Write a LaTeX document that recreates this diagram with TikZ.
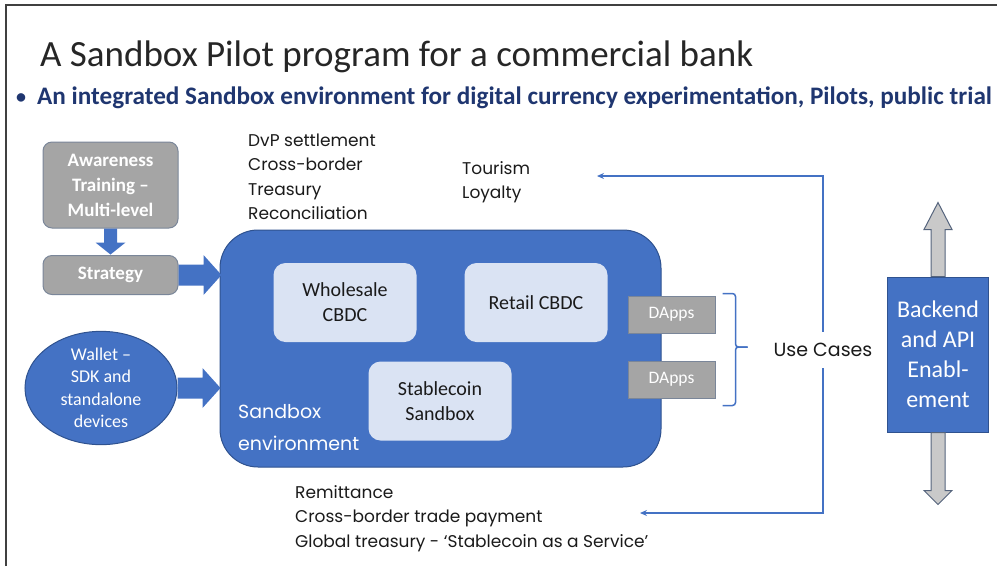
\documentclass[tikz,border=0pt]{standalone}
\usepackage{fontspec}
\setmainfont{Carlito}
\newfontfamily\geo{Poppins}
\usetikzlibrary{arrows.meta,calc,shapes.geometric}

\definecolor{sbblue}{HTML}{4472C4}
\definecolor{sbedge}{HTML}{2F528F}
\definecolor{navy}{HTML}{1F3670}
\definecolor{lightbox}{HTML}{DAE3F3}
\definecolor{greybox}{HTML}{A5A5A5}
\definecolor{greyedge}{HTML}{7A8699}
\definecolor{arrowgrey}{HTML}{C9C9C9}
\definecolor{arrowedge}{HTML}{55647D}
\definecolor{inktext}{HTML}{1A1A1A}

\tikzset{
  greyrect/.style={rectangle, rounded corners=9, fill=greybox, draw=greyedge, line width=1,
    text=white, font=\bfseries\fontsize{19}{25}\selectfont, align=center, inner sep=0},
  innerbox/.style={rectangle, rounded corners=12, fill=lightbox, text=inktext,
    font=\fontsize{20}{25}\selectfont, align=center, inner sep=0,
    minimum width=143, minimum height=79},
  dappbox/.style={rectangle, fill=greybox, draw=greyedge, line width=1, text=white,
    font=\fontsize{17.5}{20}\selectfont, minimum width=87, minimum height=37, inner sep=0},
  % multi-line text: the base anchor sits on the last line
  listtext/.style={anchor=base west, inner sep=0, text=inktext, align=left,
    font=\geo\fontsize{17}{24.5}\selectfont},
  conn/.style={draw=sbblue, line width=1.3, -{Stealth[length=7,width=6]}},
  rblock/.pic={\fill[sbblue] (0,-10.5) -- (25,-10.5) -- (25,-20) -- (43,0) -- (25,20)
    -- (25,10.5) -- (0,10.5) -- cycle;},
  dblock/.pic={\fill[sbblue] (-6.5,0) -- (-6.5,14) -- (-15,14) -- (0,26) -- (15,14)
    -- (6.5,14) -- (6.5,0) -- cycle;},
  upgrey/.pic={\filldraw[fill=arrowgrey, draw=arrowedge, line width=1] (-7,0) -- (-7,-47)
    -- (-14,-47) -- (0,-74) -- (14,-47) -- (7,-47) -- (7,0) -- cycle;},
  downgrey/.pic={\filldraw[fill=arrowgrey, draw=arrowedge, line width=1] (-7,0) -- (-7,58)
    -- (-14,58) -- (0,72) -- (14,58) -- (7,58) -- (7,0) -- cycle;}
}

\begin{document}
\begin{tikzpicture}[x=1pt,y=-1pt]
\useasboundingbox (0,0) rectangle (997,566);

% frame edges
\draw[line width=1.2, black!75] (6,566) -- (6,5) -- (997,5);

% heading
\node[anchor=base west, inner sep=0, text=black!85, font=\fontsize{37}{40}\selectfont]
  (title) at (40,66) {A Sandbox Pilot program for a commercial bank};
\node[anchor=base west, inner sep=0, text=navy, font=\bfseries\fontsize{20}{26}\selectfont]
  (bullet) at (16,103) {•};
\node[anchor=base west, inner sep=0, text=navy, font=\bfseries\fontsize{25.2}{28}\selectfont]
  (subtitle) at (37,104) {An integrated Sandbox environment for digital currency experimentation, Pilots, public trial};

% left-hand inputs
\node[greyrect, minimum width=135, minimum height=86] (aware) at (110.5,185)
  {Awareness\\Training –\\Multi-level};
\node[greyrect, minimum width=135, minimum height=39] (strat) at (110.5,275) {Strategy};
\node[ellipse, fill=sbblue, draw=sbedge, line width=1, minimum width=152, minimum height=104,
  inner sep=0, text=white, align=center, font=\fontsize{18}{22.5}\selectfont]
  (wallet) at (101,388) {Wallet –\\SDK and\\standalone\\devices};

% sandbox environment
\node[rectangle, rounded corners=38, fill=sbblue, draw=sbedge, line width=1,
  minimum width=441, minimum height=237, inner sep=0] (sandbox) at (440.5,348.5) {};
\node[anchor=base west, inner sep=0, text=white, align=left,
  font=\geo\fontsize{19}{32}\selectfont] (sblabel) at (238,450) {Sandbox\\environment};

\node[innerbox] (whole) at (345,302.5) {Wholesale\\CBDC};
\node[innerbox] (retail) at (536,302.5) {Retail CBDC};
\node[innerbox] (stable) at (440,401) {Stablecoin\\Sandbox};

\node[dappbox] (dapp1) at (671.5,314.5) {DApps};
\node[dappbox] (dapp2) at (671.5,379.5) {DApps};

% block arrows into the sandbox
\pic at (aware.south) {dblock};
\pic at (strat.east) {rblock};
\pic at (wallet.east) {rblock};

% brace grouping the DApps
\draw[sbblue, line width=1.5, rounded corners=3]
  ($(dapp1.north east)+(7,-2)$) -- ++(13,0) |- ($(dapp1.east)!0.5!(dapp2.east)+(32,0)$);
\draw[sbblue, line width=1.5, rounded corners=3]
  ($(dapp2.south east)+(7,7)$) -- ++(13,0) |- ($(dapp1.east)!0.5!(dapp2.east)+(32,0)$);

% use cases
\node[inner sep=0, minimum height=36, text=inktext, font=\geo\fontsize{19}{24}\selectfont]
  (uc) at (823,350) {Use Cases};
\coordinate (ucTop) at (597,176);
\coordinate (ucBot) at (640,513);
\draw[conn] (uc.north) |- (ucTop);
\draw[conn] (uc.south) |- (ucBot);

\node[listtext] (wlist) at (248,219.5) {DvP settlement\\Cross-border\\Treasury\\Reconciliation};
\node[listtext] (rlist) at (462,198.5) {Tourism\\Loyalty};
\node[listtext] (slist) at (295,547)
  {Remittance\\Cross-border trade payment\\Global treasury - ‘Stablecoin as a Service’};

% backend
\node[rectangle, fill=sbblue, draw=sbedge, line width=1, minimum width=101, minimum height=155,
  inner sep=0, text=white, align=center, font=\fontsize{24}{30}\selectfont]
  (backend) at (938,354.5) {Backend\\and API\\Enabl-\\ement};
\pic at (backend.north) {upgrey};
\pic at (backend.south) {downgrey};
\end{tikzpicture}
\end{document}
